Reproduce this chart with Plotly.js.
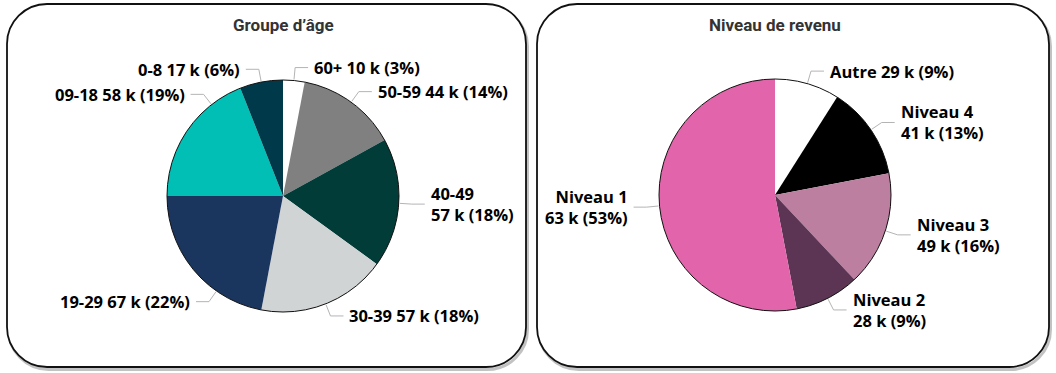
<!DOCTYPE html>
<html><head><meta charset="utf-8">
<script src="https://cdn.plot.ly/plotly-3.0.1.min.js"></script>
<style>html,body{margin:0;padding:0;background:#fff}#chart{width:1056px;height:373px}</style>
</head><body><div id="chart"></div>
<script>
// ---------------- DATA ----------------
const ageCategories = ['60+', '50-59', '40-49', '30-39', '19-29', '09-18', '0-8'];
const ageValuesK    = [10, 44, 57, 57, 67, 58, 17];
const agePercents   = [3, 14, 18, 18, 22, 19, 6];

const incomeCategories = ['Autre', 'Niveau 4', 'Niveau 3', 'Niveau 2', 'Niveau 1'];
const incomeValuesK    = [29, 41, 49, 28, 63];
const incomePercents   = [9, 13, 16, 9, 53];

const titles = ['Groupe d’âge', 'Niveau de revenu'];

// ---------------- STYLE / LAYOUT ----------------
const ageColors    = ['#ffffff', '#808080', '#013c38', '#d1d4d5', '#1b365e', '#01bfb4', '#003a4a'];
const incomeColors = ['#ffffff', '#000000', '#bd7fa0', '#5c3454', '#e264aa'];

const W = 1056, H = 373;
const X = px => px / W;
const Y = py => 1 - py / H;

const pies = [
  { cats: ageCategories, valsK: ageValuesK, pcts: agePercents, colors: ageColors,
    cx: 283, cy: 196, r: 116, title: titles[0],
    wrap: ['40-49'], anchorAngle: { '19-29': 215, '09-18': 322 } },
  { cats: incomeCategories, valsK: incomeValuesK, pcts: incomePercents, colors: incomeColors,
    cx: 775, cy: 195, r: 116, title: titles[1],
    wrap: ['Niveau 4', 'Niveau 3', 'Niveau 2', 'Niveau 1'], anchorAngle: {} }
];

const panels = [ {x0: 7, y0: 4, x1: 526, y1: 367}, {x0: 537, y0: 4, x1: 1049, y1: 367} ];

const labelFont = { family: 'Open Sans, Noto Sans, sans-serif', size: 16.5, color: '#000' };
const titleFont = { family: 'Roboto, Noto Sans, sans-serif', size: 17, color: '#333' };

function roundRectPath(p, rad, dx, dy) {
  const k = 0.5523 * rad;
  const x0 = p.x0 + dx, y0 = p.y0 + dy, x1 = p.x1 + dx, y1 = p.y1 + dy;
  const P = (x, y) => X(x) + ',' + Y(y);
  return 'M' + P(x0 + rad, y0) + ' L' + P(x1 - rad, y0) +
    ' C' + P(x1 - rad + k, y0) + ' ' + P(x1, y0 + rad - k) + ' ' + P(x1, y0 + rad) +
    ' L' + P(x1, y1 - rad) +
    ' C' + P(x1, y1 - rad + k) + ' ' + P(x1 - rad + k, y1) + ' ' + P(x1 - rad, y1) +
    ' L' + P(x0 + rad, y1) +
    ' C' + P(x0 + rad - k, y1) + ' ' + P(x0, y1 - rad + k) + ' ' + P(x0, y1 - rad) +
    ' L' + P(x0, y0 + rad) +
    ' C' + P(x0, y0 + rad - k) + ' ' + P(x0 + rad - k, y0) + ' ' + P(x0 + rad, y0) + ' Z';
}

const traces = [];
const shapes = [];
const annotations = [];

panels.forEach(p => {
  shapes.push({ type: 'path', xref: 'paper', yref: 'paper', layer: 'below',
    path: roundRectPath(p, 40, 1.5, 2.5), line: { color: 'rgba(120,120,120,0.45)', width: 3 } });
  shapes.push({ type: 'path', xref: 'paper', yref: 'paper', layer: 'below',
    path: roundRectPath(p, 40, 0, 0), fillcolor: '#ffffff', line: { color: '#111', width: 1.8 } });
});

pies.forEach(pie => {
  const dom = { x: [X(pie.cx - pie.r), X(pie.cx + pie.r)], y: [Y(pie.cy + pie.r), Y(pie.cy - pie.r)] };
  traces.push({
    type: 'pie', labels: pie.cats, values: pie.pcts, sort: false, direction: 'clockwise', rotation: 0,
    marker: { colors: pie.colors, line: { width: 0 } }, textinfo: 'none', hoverinfo: 'none',
    showlegend: false, domain: dom
  });
  shapes.push({ type: 'circle', xref: 'paper', yref: 'paper', layer: 'above',
    x0: dom.x[0], x1: dom.x[1], y0: dom.y[0], y1: dom.y[1], line: { color: '#111', width: 1 } });
  annotations.push({ xref: 'paper', yref: 'paper', x: X(pie.cx), y: Y(25), text: '<b>' + pie.title + '</b>',
    showarrow: false, xanchor: 'center', yanchor: 'middle', font: titleFont });
  const total = pie.pcts.reduce((a, b) => a + b, 0);
  let cum = 0;
  pie.cats.forEach((c, i) => {
    const mid = (cum + pie.pcts[i] / 2) / total * 360;
    cum += pie.pcts[i];
    const ang = (pie.anchorAngle[c] !== undefined ? pie.anchorAngle[c] : mid) * Math.PI / 180;
    const s = Math.sin(ang), co = Math.cos(ang);
    const side = s >= 0 ? 1 : -1;
    const x1 = pie.cx + (pie.r + 1) * s, y1 = pie.cy - (pie.r + 1) * co;
    const x2 = pie.cx + (pie.r + 13) * s, y2 = pie.cy - (pie.r + 13) * co;
    const x3 = x2 + side * 13;
    shapes.push({ type: 'path', xref: 'paper', yref: 'paper', layer: 'above',
      path: 'M' + X(x1) + ',' + Y(y1) + ' L' + X(x2) + ',' + Y(y2) + ' L' + X(x3) + ',' + Y(y2),
      line: { color: '#b4b4b4', width: 1 } });
    const sep = pie.wrap.indexOf(c) >= 0 ? '<br>' : ' ';
    const txt = '<b>' + c + sep + pie.valsK[i] + ' k (' + pie.pcts[i] + '%)</b>';
    annotations.push({ xref: 'paper', yref: 'paper', x: X(x3 + side * 4), y: Y(y2), text: txt,
      showarrow: false, xanchor: side > 0 ? 'left' : 'right', yanchor: 'middle',
      align: side > 0 ? 'left' : 'right', font: labelFont });
  });
});

const layout = {
  width: W, height: H, margin: { l: 0, r: 0, t: 0, b: 0 },
  paper_bgcolor: '#ffffff', plot_bgcolor: '#ffffff',
  shapes: shapes, annotations: annotations, showlegend: false
};
Plotly.newPlot('chart', traces, layout, { staticPlot: true, displayModeBar: false });
</script>
</body></html>
